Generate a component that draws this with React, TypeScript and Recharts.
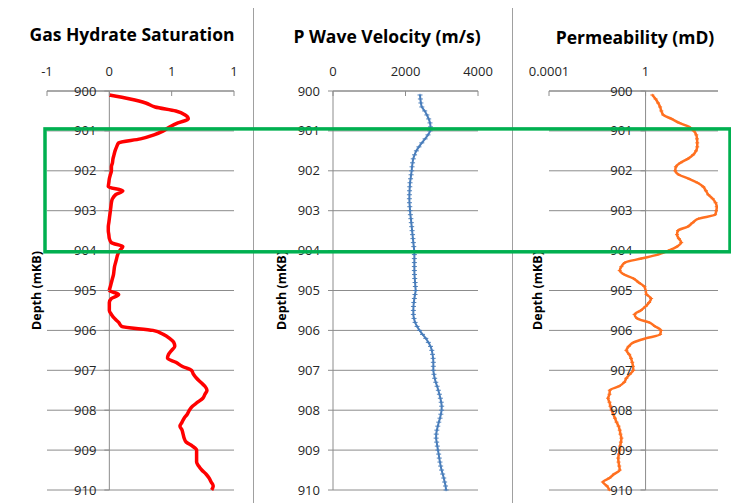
import React from 'react';
import { LineChart, Line, XAxis, YAxis, CartesianGrid, ReferenceLine } from 'recharts';

// depth samples (m below KB)
const DEPTH = [
  900.1, 900.2, 900.3, 900.4, 900.5, 900.6, 900.7, 900.8, 900.9, 901.0,
  901.1, 901.2, 901.3, 901.4, 901.5, 901.6, 901.7, 901.8, 901.9, 902.0,
  902.1, 902.2, 902.3, 902.4, 902.5, 902.6, 902.7, 902.8, 902.9, 903.0,
  903.1, 903.2, 903.3, 903.4, 903.5, 903.6, 903.7, 903.8, 903.9, 904.0,
  904.1, 904.2, 904.3, 904.4, 904.5, 904.6, 904.7, 904.8, 904.9, 905.0,
  905.1, 905.2, 905.3, 905.4, 905.5, 905.6, 905.7, 905.8, 905.9, 906.0,
  906.1, 906.2, 906.3, 906.4, 906.5, 906.6, 906.7, 906.8, 906.9, 907.0,
  907.1, 907.2, 907.3, 907.4, 907.5, 907.6, 907.7, 907.8, 907.9, 908.0,
  908.1, 908.2, 908.3, 908.4, 908.5, 908.6, 908.7, 908.8, 908.9, 909.0,
  909.1, 909.2, 909.3, 909.4, 909.5, 909.6, 909.7, 909.8, 909.9, 910.0,
];

const SATURATION = [
  0.0, 0.2, 0.35, 0.44, 0.64, 0.73, 0.76, 0.66, 0.58, 0.52,
  0.43, 0.3, 0.09, 0.07, 0.055, 0.045, 0.035, 0.03, 0.02, 0.02,
  0.01, 0.0, -0.005, -0.01, 0.13, 0.06, 0.03, 0.02, 0.015, 0.01,
  0.005, 0.0, -0.005, -0.01, -0.01, -0.005, 0.0, 0.02, 0.13, 0.1,
  0.08, 0.07, 0.06, 0.05, 0.045, 0.04, 0.03, 0.02, 0.01, 0.0,
  0.09, 0.02, 0.0, 0.0, 0.0, 0.02, 0.05, 0.09, 0.12, 0.42,
  0.52, 0.58, 0.62, 0.63, 0.6, 0.57, 0.56, 0.64, 0.7, 0.79,
  0.81, 0.84, 0.88, 0.92, 0.94, 0.92, 0.9, 0.85, 0.8, 0.77,
  0.75, 0.72, 0.7, 0.68, 0.7, 0.71, 0.72, 0.74, 0.8, 0.84,
  0.84, 0.84, 0.84, 0.86, 0.89, 0.93, 0.96, 0.98, 1.0, 0.985,
];

const VELOCITY = [
  2400, 2410, 2425, 2450, 2530, 2590, 2640, 2676, 2690, 2676,
  2620, 2540, 2450, 2370, 2300, 2250, 2215, 2195, 2180, 2170,
  2155, 2140, 2125, 2118, 2112, 2108, 2107, 2110, 2118, 2125,
  2135, 2148, 2160, 2171, 2182, 2194, 2205, 2217, 2228, 2240,
  2245, 2245, 2245, 2245, 2245, 2248, 2255, 2265, 2272, 2280,
  2262, 2245, 2230, 2220, 2217, 2217, 2235, 2265, 2320, 2390,
  2470, 2560, 2630, 2690, 2725, 2745, 2762, 2768, 2768, 2768,
  2785, 2805, 2835, 2872, 2906, 2935, 2962, 2985, 2998, 2995,
  2975, 2952, 2918, 2890, 2865, 2848, 2845, 2860, 2878, 2895,
  2915, 2932, 2950, 2970, 2995, 3025, 3055, 3080, 3105, 3120,
];

const PERMEABILITY = [
  1.9, 2.6, 3.3, 4.0, 4.5, 5.4, 12, 25, 63, 100,
  126, 135, 138, 138, 123, 93, 56, 28, 18, 17,
  24, 63, 141, 245, 316, 398, 603, 794, 891, 851,
  759, 158, 89, 56, 22, 20, 24, 30, 20, 8.9,
  3.2, 0.66, 0.14, 0.1, 0.085, 0.13, 0.32, 0.52, 0.89, 1.0,
  1.1, 1.7, 1.4, 1.0, 0.63, 0.35, 0.45, 1.4, 2.5, 4.3,
  4.0, 1.0, 0.32, 0.2, 0.16, 0.21, 0.25, 0.28, 0.3, 0.31,
  0.22, 0.16, 0.13, 0.079, 0.033, 0.032, 0.028, 0.032, 0.035, 0.039,
  0.046, 0.054, 0.063, 0.076, 0.085, 0.091, 0.1, 0.095, 0.089, 0.085,
  0.079, 0.074, 0.076, 0.081, 0.085, 0.05, 0.032, 0.017, 0.025, 0.032,
];

const DEPTH_TICKS = [900, 901, 902, 903, 904, 905, 906, 907, 908, 909, 910];
const SAT_TICKS = [-0.6, 0, 0.6, 1.2];
const VEL_TICKS = [0, 2000, 4000];
const PERM_TICKS = [0.0001, 1];
const ZONE = [900.95, 904.03]; // highlighted interval

const FONT = '"Open Sans", "Liberation Sans", sans-serif';
const GRID = '#8c8c8c';
const FRAME = '#a0a0a0';
const CHART_H = 496;
const AXIS_H = 30;
const PLOT_TOP = 84;
const PLOT_H = 399;

const satData = DEPTH.map((d, i) => ({ depth: d, value: SATURATION[i] }));
const velData = DEPTH.map((d, i) => ({ depth: d, value: VELOCITY[i] }));
const permData = DEPTH.map((d, i) => ({ depth: d, value: PERMEABILITY[i] }));

const DepthTick = (props: any) => {
  const { x, y, payload, shift } = props;
  const ax = x + shift;
  return (
    <g>
      <line x1={ax - 5} x2={ax} y1={y} y2={y} stroke={GRID} />
      <text x={ax - 13} y={y} dy="0.35em" textAnchor="end" fontSize={13} fill="#262626" fontFamily={FONT}>
        {payload.value}
      </text>
    </g>
  );
};

const TopTick = (props: any) => {
  const { x, y, payload, fmt } = props;
  return (
    <g>
      <line x1={x} x2={x} y1={y} y2={y + 5} stroke={GRID} />
      <text x={x} y={y - 20} dy="0.35em" textAnchor="middle" fontSize={13} fill="#262626" fontFamily={FONT}>
        {fmt(payload.value)}
      </text>
    </g>
  );
};

const plusDot = (color: string, arm: number) => (p: any) => {
  const { cx, cy, index } = p;
  if (cx == null || cy == null) return <g key={`n-${index}`} />;
  return (
    <path
      key={`d-${index}`}
      d={`M${cx - arm},${cy}h${arm * 2}M${cx},${cy - 1.2}v2.4`}
      stroke={color}
      strokeWidth={1}
      fill="none"
    />
  );
};

interface PanelProps {
  left: number;
  width: number;
  yw: number;
  right: number;
  data: { depth: number; value: number }[];
  domain: [number, number];
  ticks: number[];
  log?: boolean;
  cross: number;
  shift: number;
  fmt: (v: number) => string;
  color: string;
  strokeWidth: number;
  dot: any;
}

const Panel = (p: PanelProps) => (
  <div style={{ position: 'absolute', left: p.left, top: 0 }}>
    <LineChart
      width={p.width}
      height={CHART_H}
      data={p.data}
      layout="vertical"
      margin={{ top: PLOT_TOP - AXIS_H, right: p.right, bottom: CHART_H - PLOT_TOP - PLOT_H, left: 0 }}
    >
      <CartesianGrid vertical={false} stroke={GRID} />
      <XAxis
        type="number"
        orientation="top"
        dataKey="value"
        scale={p.log ? 'log' : 'auto'}
        domain={p.domain}
        ticks={p.ticks}
        interval={0}
        allowDataOverflow
        height={AXIS_H}
        stroke={GRID}
        tickLine={false}
        tickSize={0}
        tickMargin={0}
        tick={(t: any) => <TopTick {...t} fmt={p.fmt} />}
      />
      <YAxis
        type="number"
        dataKey="depth"
        domain={[900, 910]}
        ticks={DEPTH_TICKS}
        interval={0}
        width={p.yw}
        axisLine={false}
        tickLine={false}
        tickSize={0}
        tickMargin={0}
        tick={(t: any) => <DepthTick {...t} shift={p.shift} />}
      />
      <ReferenceLine x={p.cross} stroke={GRID} />
      <Line
        type="monotone"
        dataKey="value"
        stroke={p.color}
        strokeWidth={p.strokeWidth}
        dot={p.dot}
        isAnimationActive={false}
      />
    </LineChart>
  </div>
);

const yOf = (d: number) => PLOT_TOP + ((d - 900) / 10) * PLOT_H;

export default function App() {
  const titles = [
    { text: 'Gas Hydrate Saturation', x: 125, y: 34 },
    { text: 'P Wave Velocity (m/s)', x: 380, y: 36 },
    { text: 'Permeability (mD)', x: 628, y: 37 },
  ];
  const depthLabels = [30, 275, 531];
  return (
    <div style={{ position: 'relative', width: 735, height: CHART_H, marginLeft: -1, marginTop: -1 }}>
      <Panel
        left={0}
        width={246}
        yw={40}
        right={19}
        data={satData}
        domain={[-0.6, 1.2]}
        ticks={SAT_TICKS}
        cross={0}
        shift={187 / 3}
        fmt={(v) => String(Math.round(v))}
        color="#ff0000"
        strokeWidth={3.5}
        dot={false}
      />
      <Panel
        left={246}
        width={259}
        yw={80}
        right={34}
        data={velData}
        domain={[0, 4000]}
        ticks={VEL_TICKS}
        cross={0}
        shift={0}
        fmt={(v) => String(v)}
        color="#4a7ebb"
        strokeWidth={2}
        dot={plusDot('#4a7ebb', 2.5)}
      />
      <Panel
        left={505}
        width={232}
        yw={37}
        right={26}
        data={permData}
        domain={[0.0001, 1000]}
        ticks={PERM_TICKS}
        log
        cross={1}
        shift={(169 * 4) / 7}
        fmt={(v) => String(v)}
        color="#ff7020"
        strokeWidth={2.5}
        dot={plusDot('#ff7020', 2)}
      />
      <svg
        width={735}
        height={CHART_H}
        style={{ position: 'absolute', left: 0, top: 0, pointerEvents: 'none' }}
      >
        <line x1={0} x2={735} y1={0.5} y2={0.5} stroke={FRAME} />
        <line x1={0.5} x2={0.5} y1={0} y2={CHART_H} stroke={FRAME} />
        <line x1={246.5} x2={246.5} y1={0} y2={CHART_H} stroke={FRAME} />
        <line x1={505.5} x2={505.5} y1={0} y2={CHART_H} stroke={FRAME} />
        {titles.map((t) => (
          <text key={t.text} x={t.x} y={t.y} textAnchor="middle" fontSize={17.5} fontWeight="bold" fill="#000" fontFamily={FONT}>
            {t.text}
          </text>
        ))}
        {depthLabels.map((x) => (
          <text
            key={x}
            x={x}
            y={PLOT_TOP + PLOT_H / 2}
            dy="0.35em"
            textAnchor="middle"
            fontSize={12.5}
            fontWeight="bold"
            fill="#000"
            fontFamily={FONT}
            transform={`rotate(-90, ${x}, ${PLOT_TOP + PLOT_H / 2})`}
          >
            Depth (mKB)
          </text>
        ))}
        <rect
          x={38}
          y={yOf(ZONE[0])}
          width={685}
          height={yOf(ZONE[1]) - yOf(ZONE[0])}
          fill="none"
          stroke="#00b050"
          strokeWidth={3.5}
        />
      </svg>
    </div>
  );
}
